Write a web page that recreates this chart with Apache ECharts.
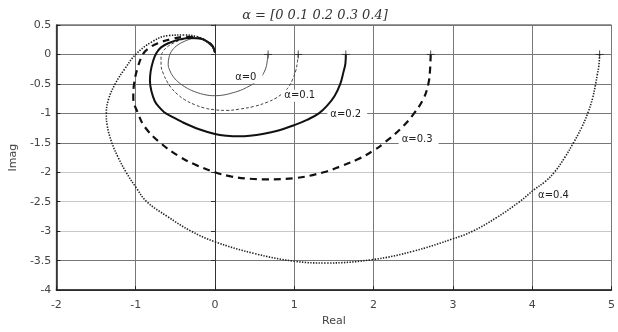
<!DOCTYPE html>
<html>
<head>
<meta charset="utf-8">
<script src="https://cdn.jsdelivr.net/npm/echarts@6/dist/echarts.min.js"></script>
<style>
  html, body { margin: 0; padding: 0; background: #fff; }
  #chart { width: 618px; height: 332px; }
</style>
</head>
<body>
<div id="chart"></div>
<script>
// α 取值与曲线标注
const alphas = ['α=0', 'α=0.1', 'α=0.2', 'α=0.3', 'α=0.4']
// 标注位置（数据坐标，文字左端）
const labelAt = [[0.21, -0.39], [0.83, -0.70], [1.41, -1.02], [2.31, -1.44], [4.03, -2.385]]

// Nyquist 曲线 [Real, Imag]，从 ω=0 开始
const curveA0 = [
  [0.67, 0], [0.66, -0.1], [0.65, -0.19], [0.62, -0.3], [0.56, -0.42], [0.48, -0.5],
  [0.40, -0.56], [0.32, -0.61], [0.2, -0.66], [0.1, -0.69], [0, -0.70], [-0.1, -0.69],
  [-0.26, -0.63], [-0.38, -0.55], [-0.47, -0.46], [-0.53, -0.37], [-0.57, -0.27],
  [-0.59, -0.17], [-0.58, -0.05], [-0.55, 0.05], [-0.49, 0.14], [-0.39, 0.22],
  [-0.26, 0.27], [-0.16, 0.26], [-0.08, 0.21], [-0.02, 0.13], [0, 0.04]
]
const curveA1 = [
  [1.05, 0], [1.04, -0.12], [1.02, -0.27], [0.98, -0.42], [0.93, -0.55], [0.86, -0.65],
  [0.77, -0.74], [0.66, -0.81], [0.50, -0.88], [0.30, -0.93], [0.15, -0.95], [0, -0.94],
  [-0.13, -0.91], [-0.26, -0.85], [-0.38, -0.77], [-0.47, -0.68], [-0.55, -0.57],
  [-0.60, -0.47], [-0.65, -0.33], [-0.68, -0.18], [-0.68, -0.04], [-0.65, 0.06],
  [-0.60, 0.13], [-0.53, 0.19], [-0.44, 0.24], [-0.30, 0.28], [-0.18, 0.27],
  [-0.09, 0.22], [-0.03, 0.13], [0, 0.04]
]
const curveA2 = [
  [1.65, 0], [1.645, -0.15], [1.62, -0.3], [1.58, -0.5], [1.51, -0.7], [1.42, -0.86],
  [1.31, -1.0], [1.16, -1.11], [1.0, -1.20], [0.8, -1.29], [0.6, -1.35], [0.44, -1.38],
  [0.3, -1.39], [0.15, -1.38], [0, -1.35], [-0.2, -1.27], [-0.41, -1.15], [-0.55, -1.05],
  [-0.64, -0.98], [-0.72, -0.87], [-0.76, -0.79], [-0.80, -0.63], [-0.82, -0.45],
  [-0.81, -0.28], [-0.78, -0.11], [-0.74, 0.02], [-0.68, 0.12], [-0.59, 0.19],
  [-0.43, 0.26], [-0.30, 0.28], [-0.18, 0.27], [-0.10, 0.22], [-0.03, 0.14], [0, 0.03]
]
const curveA3 = [
  [2.72, 0], [2.71, -0.3], [2.69, -0.5], [2.63, -0.75], [2.51, -1.0], [2.35, -1.25],
  [2.135, -1.5], [2.0, -1.63], [1.80, -1.78], [1.60, -1.89], [1.37, -2.0], [1.0, -2.10],
  [0.65, -2.12], [0.44, -2.11], [0.2, -2.07], [0, -2.0], [-0.25, -1.87], [-0.45, -1.73],
  [-0.69, -1.5], [-0.885, -1.23], [-0.97, -1.0], [-1.03, -0.74], [-1.02, -0.5],
  [-0.98, -0.25], [-0.91, 0], [-0.84, 0.10], [-0.72, 0.19], [-0.55, 0.26],
  [-0.36, 0.30], [-0.20, 0.28], [-0.10, 0.22], [-0.03, 0.14], [0, 0.03]
]
const curveA4 = [
  [4.85, 0], [4.84, -0.2], [4.82, -0.35], [4.80, -0.5], [4.76, -0.75], [4.70, -1.0],
  [4.62, -1.25], [4.52, -1.5], [4.41, -1.75], [4.28, -2.0], [4.17, -2.15], [4.02, -2.30],
  [3.84, -2.5], [3.55, -2.77], [3.25, -3.0], [3.0, -3.13], [2.5, -3.34], [2.0, -3.48],
  [1.4, -3.54], [1.0, -3.51], [0.5, -3.38], [0, -3.18], [-0.30, -3.0], [-0.6, -2.75],
  [-0.86, -2.5], [-0.99, -2.27], [-1.12, -2.0], [-1.22, -1.75], [-1.30, -1.5],
  [-1.36, -1.2], [-1.37, -1.0], [-1.34, -0.75], [-1.25, -0.48], [-1.14, -0.25],
  [-1.0, 0], [-0.80, 0.21], [-0.59, 0.32], [-0.39, 0.33], [-0.22, 0.30], [-0.12, 0.23],
  [-0.04, 0.14], [0, 0.03]
]
const curves = [curveA0, curveA1, curveA2, curveA3, curveA4]

// 坐标轴刻度
const xTicks = { min: -2, max: 5, step: 1 }
const yTicks = { min: -4, max: 0.5, step: 0.5 }

// 线型：细实线、细虚线、粗实线、粗虚线、点线
const lineStyles = [
  { color: '#555', width: 1, type: 'solid' },
  { color: '#444', width: 1, type: [3, 2] },
  { color: '#111', width: 2, type: 'solid' },
  { color: '#111', width: 2.2, type: [7, 5] },
  { color: '#222', width: 1.6, type: [1.4, 1.4] }
]

const tickFont = { fontFamily: 'DejaVu Sans', fontSize: 11, color: '#444' }

const lineSeries = curves.map((data, i) => ({
  type: 'line',
  data,
  showSymbol: false,
  smooth: 0.4,
  animation: false,
  lineStyle: lineStyles[i],
  z: 3 + i,
  markPoint: {
    symbol: 'circle',
    symbolSize: 1,
    itemStyle: { color: 'rgba(0,0,0,0)' },
    data: [{ coord: labelAt[i] }],
    label: {
      show: true,
      position: 'right',
      distance: 0,
      formatter: alphas[i],
      fontFamily: 'DejaVu Sans',
      fontSize: 10,
      color: '#222',
      backgroundColor: '#fff',
      padding: [1, 6, 1, 3]
    }
  }
}))

// 起点 "+" 标记
const startSeries = {
  type: 'scatter',
  data: curves.map(c => c[0]),
  symbol: 'path://M0 5H10M5 0V10',
  symbolSize: 8,
  itemStyle: { color: 'rgba(0,0,0,0)', borderColor: '#222', borderWidth: 1 },
  animation: false,
  z: 10
}

const chart = echarts.init(document.getElementById('chart'))
chart.setOption({
  backgroundColor: '#fff',
  animation: false,
  title: {
    text: 'α = [0 0.1 0.2 0.3 0.4]',
    left: 310,
    top: 4,
    textAlign: 'center',
    textStyle: {
      fontFamily: 'DejaVu Serif',
      fontStyle: 'italic',
      fontWeight: 'normal',
      fontSize: 13,
      color: '#333'
    }
  },
  grid: {
    left: 53, right: 1, top: 25, bottom: 34,
    show: true, borderColor: '#333', borderWidth: 1
  },
  xAxis: {
    type: 'value',
    min: xTicks.min, max: xTicks.max, interval: xTicks.step,
    name: 'Real',
    nameLocation: 'middle',
    nameGap: 25,
    nameTextStyle: { fontFamily: 'DejaVu Sans', fontSize: 11, color: '#444' },
    axisLine: { onZero: false, lineStyle: { color: '#222', width: 1.5 } },
    axisTick: { inside: true, length: 4, lineStyle: { color: '#222' } },
    axisLabel: Object.assign({ margin: 10 }, tickFont),
    splitLine: { show: true, lineStyle: { color: '#777', width: 1 } }
  },
  yAxis: [
    {
      type: 'value',
      min: yTicks.min, max: yTicks.max, interval: yTicks.step,
      name: 'Imag',
      nameLocation: 'middle',
      nameGap: 37,
      nameTextStyle: { fontFamily: 'DejaVu Sans', fontSize: 11, color: '#444' },
      axisLine: { onZero: false, lineStyle: { color: '#222', width: 1.5 } },
      axisTick: { inside: true, length: 4, lineStyle: { color: '#222' } },
      axisLabel: Object.assign({ margin: 5 }, tickFont),
      splitLine: {
        show: true,
        lineStyle: {
          width: 1,
          color: ['#555', '#777', '#c8c8c8', '#c8c8c8', '#c8c8c8', '#777', '#777', '#777', '#777', '#777']
        }
      }
    },
    {
      type: 'value',
      position: 'right',
      min: yTicks.min, max: yTicks.max, interval: yTicks.step,
      axisLine: { show: true, lineStyle: { color: '#333' } },
      axisTick: { inside: true, length: 4, lineStyle: { color: '#333' } },
      axisLabel: { show: false },
      splitLine: { show: false }
    }
  ],
  series: [...lineSeries, startSeries]
})
</script>
</body>
</html>
